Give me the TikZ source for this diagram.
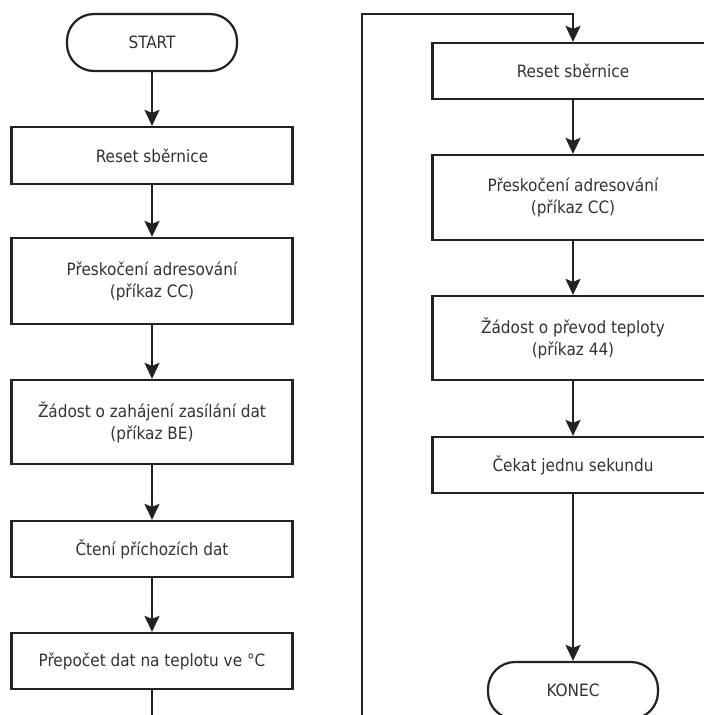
\documentclass[tikz,border=0pt]{standalone}
\usepackage{fontspec}
\setmainfont{DejaVu Sans Condensed}
\usetikzlibrary{arrows.meta}
\definecolor{ink}{HTML}{222222}
\definecolor{txt}{HTML}{333333}
\tikzset{
  stepbox/.style={draw=ink, line width=2.2pt, fill=white, minimum width=281pt,
    inner sep=0pt, align=center, text=txt,
    font=\fontsize{17pt}{22pt}\selectfont},
  termbox/.style={stepbox, minimum width=170pt, minimum height=57pt, rounded corners=27pt},
  flow/.style={draw=ink, line width=2.2pt, -{Stealth[length=16pt, width=15pt, inset=3pt]}},
  wire/.style={draw=ink, line width=2.2pt}
}
\begin{document}
\begin{tikzpicture}[x=1pt, y=-1pt]
  \useasboundingbox (0,0) rectangle (704,715);
  \clip (0,0) rectangle (704,715);

  % left column
  \node[termbox] (start) at (152,42.5) {START};
  \node[stepbox, minimum height=57pt] (b1) at (152,155.5) {Reset sběrnice};
  \node[stepbox, minimum height=86pt] (b2) at (152,281) {Přeskočení adresování\\(příkaz CC)};
  \node[stepbox, minimum height=84pt] (b3) at (152,422) {Žádost o zahájení zasílání dat\\(příkaz BE)};
  \node[stepbox, minimum height=56pt] (b4) at (152,549) {Čtení příchozích dat};
  \node[stepbox, minimum height=56pt] (b5) at (152,661) {Přepočet dat na teplotu ve °C};

  % right column
  \node[stepbox, minimum height=56pt] (r1) at (573,71) {Reset sběrnice};
  \node[stepbox, minimum height=85pt] (r2) at (573,197.5) {Přeskočení adresování\\(příkaz CC)};
  \node[stepbox, minimum height=84pt] (r3) at (573,338) {Žádost o převod teploty\\(příkaz 44)};
  \node[stepbox, minimum height=56pt] (r4) at (573,465) {Čekat jednu sekundu};
  \node[termbox] (stop) at (573,690.5) {KONEC};

  % connectors
  \draw[flow] (start) -- (b1);
  \draw[flow] (b1) -- (b2);
  \draw[flow] (b2) -- (b3);
  \draw[flow] (b3) -- (b4);
  \draw[flow] (b4) -- (b5);

  \coordinate (loopbot) at (362,740);
  \coordinate (looptop) at (362,14);
  \draw[flow] (b5.south) |- (loopbot) -- (looptop) -| (r1.north);

  \draw[flow] (r1) -- (r2);
  \draw[flow] (r2) -- (r3);
  \draw[flow] (r3) -- (r4);
  \draw[flow] (r4) -- (stop);
\end{tikzpicture}
\end{document}
